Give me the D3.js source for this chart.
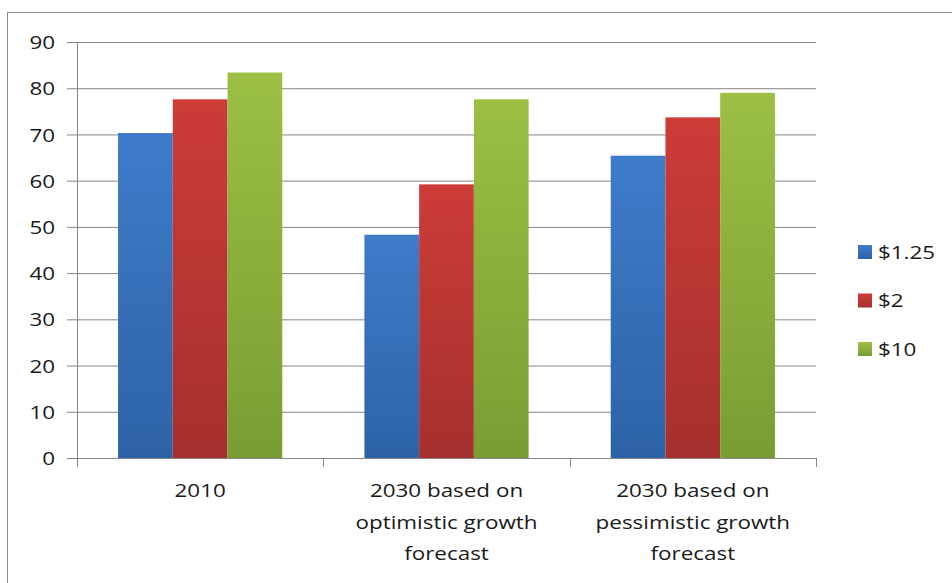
<!DOCTYPE html>
<html>
<head>
<meta charset="utf-8">
<script src="https://cdn.jsdelivr.net/npm/d3@7"></script>
<style>
body{margin:0;background:#fff}
text{font-family:"Open Sans",sans-serif;fill:#1a1a1a}
</style>
</head>
<body>
<script>
var categories = [["2010"], ["2030 based on","optimistic growth","forecast"], ["2030 based on","pessimistic growth","forecast"]]
var seriesNames = ["$1.25","$2","$10"]
var s125 = [70.3, 48.3, 65.4]
var s2 = [77.6, 59.2, 73.7]
var s10 = [83.4, 77.6, 79.0]
var yTicks = [0,10,20,30,40,50,60,70,80,90]

var topCols = ["#3e7cca","#cc3c39","#9cbf44"]
var botCols = ["#2d62a6","#a5302d","#7a9d33"]

var W = 952, H = 583
var pLeft = 77, pRight = 816, pTop = 42, pBottom = 458
var sx = 1.18  // text is stretched wider than normal

var svg = d3.select("body").append("svg")
    .attr("width",W)
    .attr("height",H)

// outer frame
svg.append("rect")
    .attr("x",7.5).attr("y",12.5)
    .attr("width",1000).attr("height",1000)
    .attr("fill","none").attr("stroke","#8c8c8c").attr("stroke-width",1)

var defs = svg.append("defs")
for(i=0;i<3;i++){
    var g = defs.append("linearGradient").attr("id","grad"+i)
        .attr("x1",0).attr("y1",0).attr("x2",0).attr("y2",1)
    g.append("stop").attr("offset","0%").attr("stop-color",topCols[i])
    g.append("stop").attr("offset","100%").attr("stop-color",botCols[i])
}

var y = d3.scaleLinear().domain([0,90]).range([pBottom,pTop])
var x0 = d3.scaleBand().domain(d3.range(categories.length)).range([pLeft,pRight])
var x1 = d3.scaleBand().domain(d3.range(3)).range([0,x0.bandwidth()]).paddingOuter(0.75).paddingInner(0)

// gridlines
var yAxis = d3.axisLeft(y).tickValues(yTicks).tickSize(10).tickPadding(12)
var gy = svg.append("g").attr("transform","translate("+pLeft+",0)").call(yAxis)
gy.select(".domain").attr("stroke","#868686")
gy.selectAll(".tick line").attr("stroke","#868686")
gy.selectAll(".tick").append("line")
    .attr("x1",0).attr("x2",pRight-pLeft)
    .attr("stroke","#868686")
gy.selectAll(".tick text")
    .attr("font-size",19)
    .attr("fill","#1a1a1a")
    .attr("font-family","'Open Sans',sans-serif")
    .attr("dy","0.35em")
    .each(function(){
        var t = d3.select(this)
        var xx = +t.attr("x")
        t.attr("x",null).attr("transform","translate("+xx+",0) scale("+sx+",1)")
    })

// x axis line + ticks
svg.append("line")
    .attr("x1",pLeft).attr("x2",pRight).attr("y1",pBottom+0.5).attr("y2",pBottom+0.5)
    .attr("stroke","#868686")
var bounds = [0,1,2].map(function(d){return x0(d)}).concat([pRight])
svg.selectAll(".xt").data(bounds).enter().append("line")
    .attr("x1",function(d){return Math.round(d)+0.5})
    .attr("x2",function(d){return Math.round(d)+0.5})
    .attr("y1",pBottom).attr("y2",pBottom+9)
    .attr("stroke","#868686")

// bars
var allSeries = [s125,s2,s10]
for(s=0;s<3;s++){
    svg.selectAll(".bar"+s).data(allSeries[s]).enter().append("rect")
        .attr("x",function(d,i){return x0(i)+x1(s)})
        .attr("y",function(d){return y(d)})
        .attr("width",x1.bandwidth())
        .attr("height",function(d){return pBottom-y(d)})
        .attr("fill","url(#grad"+s+")")
}

// category labels
for(i=0;i<categories.length;i++){
    var cx = x0(i)+x0.bandwidth()/2
    for(j=0;j<categories[i].length;j++){
        svg.append("text")
            .attr("transform","translate("+cx+","+(497+j*31.5)+") scale("+sx+",1)")
            .attr("text-anchor","middle")
            .attr("font-size",19)
            .text(categories[i][j])
    }
}

// legend
var lg = svg.append("g")
for(i=0;i<3;i++){
    var ly = 252+i*48.5
    lg.append("rect")
        .attr("x",858).attr("y",ly-7)
        .attr("width",14).attr("height",14)
        .attr("fill","url(#grad"+i+")")
    lg.append("text")
        .attr("transform","translate(878,"+ly+") scale("+sx+",1)")
        .attr("dy","0.35em")
        .attr("font-size",19)
        .text(seriesNames[i])
}
</script>
</body>
</html>
